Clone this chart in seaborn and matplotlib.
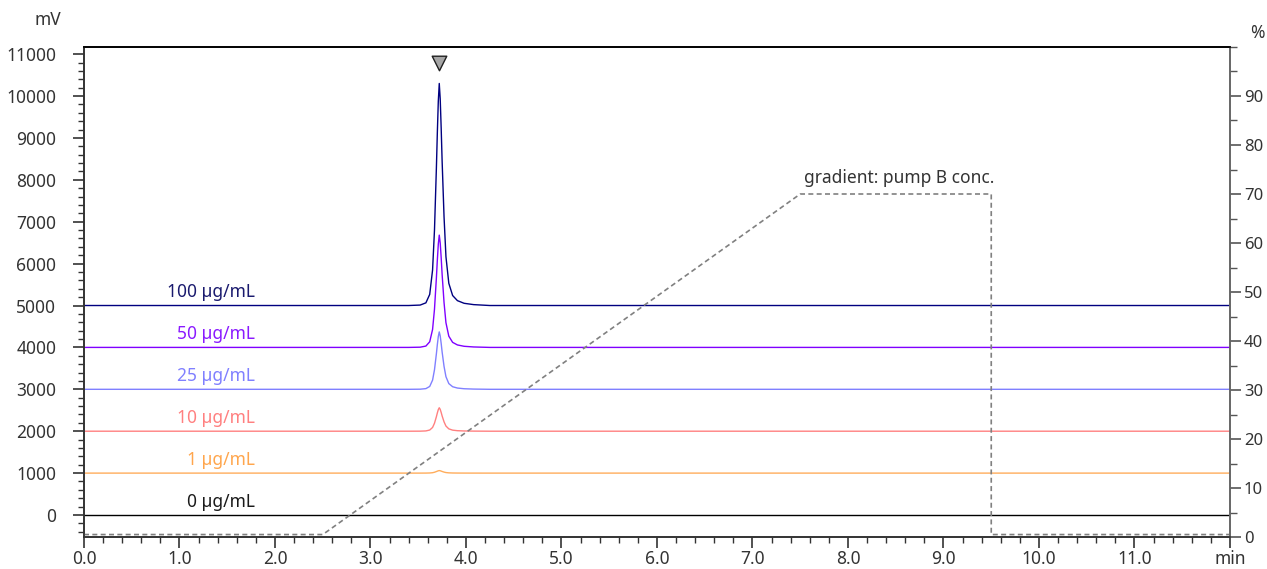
import numpy as np
import pandas as pd
import matplotlib
matplotlib.use("Agg")
import matplotlib.pyplot as plt
from matplotlib.ticker import MultipleLocator
import seaborn as sns

# sample concentrations, baseline offsets and peak heights (mV)
conc_labels = ["0 µg/mL", "1 µg/mL", "10 µg/mL", "25 µg/mL", "50 µg/mL", "100 µg/mL"]
offsets = [0, 1000, 2000, 3000, 4000, 5000]
peak_heights = [0, 60, 560, 1370, 2680, 5300]
colors = ["#000000", "#ffad5c", "#ff8080", "#8080ff", "#8000ff", "#000080"]
text_colors = ["#1a1a1a", "#ffa64d", "#ff8080", "#8080ff", "#8a1aff", "#1a1a6e"]

# peak profile (time in min, relative intensity)
profile_t = [0.0, 3.40, 3.52, 3.58, 3.62, 3.65, 3.67, 3.69, 3.70, 3.71, 3.72,
             3.73, 3.74, 3.75, 3.77, 3.79, 3.82, 3.86, 3.91, 3.98, 4.08, 4.25, 12.0]
profile_rel = [0.0, 0.0, 0.002, 0.012, 0.05, 0.16, 0.34, 0.62, 0.78, 0.92, 1.0,
               0.93, 0.8, 0.65, 0.4, 0.22, 0.1, 0.045, 0.022, 0.01, 0.004, 0.0, 0.0]

# gradient program: pump B conc. (%)
grad_t = [0.0, 2.5, 7.5, 9.5, 9.5, 12.0]
grad_b = [0.5, 0.5, 70.0, 70.0, 0.5, 0.5]

peak_marker_t = 3.72
peak_marker_mv = 10790

rows = []
for lab, off, h in zip(conc_labels, offsets, peak_heights):
    for t, r in zip(profile_t, profile_rel):
        rows.append({"conc": lab, "time": t, "mV": off + h * r})
df = pd.DataFrame(rows)
grad_df = pd.DataFrame({"time": grad_t, "B": grad_b})

sns.set_style("ticks")
plt.rcParams["font.family"] = ["Noto Sans", "DejaVu Sans"]
plt.rcParams["font.size"] = 12

fig = plt.figure(figsize=(12.67, 5.69), dpi=100)
ax = fig.add_axes([84 / 1267, 32 / 569, (1230 - 84) / 1267, (537 - 47) / 569])

sns.lineplot(data=df, x="time", y="mV", hue="conc", hue_order=conc_labels,
             palette=colors, estimator=None, legend=False, linewidth=1.0, ax=ax)
sns.scatterplot(x=[peak_marker_t], y=[peak_marker_mv], marker="v", s=110,
                color="#a6a6a6", edgecolor="#202020", linewidth=1.0, ax=ax, zorder=5)

for lab, off, tc in zip(conc_labels, offsets, text_colors):
    ax.text(1.79, off + 320, lab, ha="right", va="center", color=tc, fontsize=12.5)

ax.set_xlim(0, 12)
ax.set_ylim(-525, 11170)
ax.xaxis.set_minor_locator(MultipleLocator(0.2))
ax.yaxis.set_minor_locator(MultipleLocator(200))
xt = np.arange(0, 13)
ax.set_xticks(xt)
ax.set_xticklabels([f"{v:.1f}" for v in xt[:-1]] + ["min"])
ax.set_yticks(np.arange(0, 12000, 1000))
ax.set_xlabel("")
ax.set_ylabel("")
ax.tick_params(axis="both", which="major", length=8, width=1.2, colors="#333333",
               labelcolor="#333333", labelsize=12.5)
ax.tick_params(axis="both", which="minor", length=4, width=1.0, colors="#333333")
ax.tick_params(axis="x", pad=1)
ax.tick_params(axis="y", pad=12)

ax2 = ax.twinx()
sns.lineplot(data=grad_df, x="time", y="B", color="#808080", linewidth=1.2,
             linestyle=(0, (3, 2)), estimator=None, sort=False, ax=ax2)
ax2.text(7.54, 71.5, "gradient: pump B conc.", ha="left", va="bottom",
         color="#333333", fontsize=12.5)
ax2.set_ylim(0, 100)
ax2.set_yticks(np.arange(0, 100, 10))
ax2.yaxis.set_minor_locator(MultipleLocator(5))
ax2.set_ylabel("")
ax2.tick_params(axis="y", which="major", length=8, width=1.2, colors="#555555",
                labelcolor="#333333", labelsize=12, pad=2)
ax2.tick_params(axis="y", which="minor", length=5, width=1.0, colors="#555555")

for a in (ax, ax2):
    for s in a.spines.values():
        s.set_linewidth(1.2)
    a.spines["top"].set_color("#000000")
    a.spines["left"].set_color("#333333")
    a.spines["bottom"].set_color("#333333")
    a.spines["right"].set_color("#666666")

fig.text(48 / 1267, 1 - 20 / 569, "mV", ha="center", va="center", color="#333333", fontsize=12.5)
fig.text(1257 / 1267, 1 - 33 / 569, "%", ha="center", va="center", color="#333333", fontsize=12.5)

fig.savefig("out.png", dpi=100)
